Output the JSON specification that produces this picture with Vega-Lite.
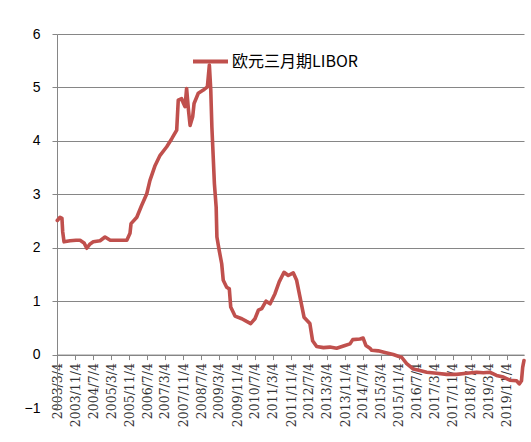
{
  "$schema": "https://vega.github.io/schema/vega-lite/v6.json",
  "width": 467,
  "height": 374,
  "autosize": {"type": "none"},
  "padding": {"left": 57, "top": 34, "right": 7, "bottom": 34},
  "background": "white",
  "config": {"view": {"stroke": null}},
  "data": {"values": [
    {"date": "2003-03-08", "rate": 2.51},
    {"date": "2003-04-14", "rate": 2.57},
    {"date": "2003-05-10", "rate": 2.55},
    {"date": "2003-05-20", "rate": 2.3},
    {"date": "2003-06-07", "rate": 2.11},
    {"date": "2003-08-28", "rate": 2.13},
    {"date": "2003-11-16", "rate": 2.14},
    {"date": "2004-01-10", "rate": 2.14},
    {"date": "2004-03-04", "rate": 2.09},
    {"date": "2004-04-10", "rate": 1.99},
    {"date": "2004-05-25", "rate": 2.07},
    {"date": "2004-07-07", "rate": 2.11},
    {"date": "2004-10-07", "rate": 2.13},
    {"date": "2004-12-13", "rate": 2.2},
    {"date": "2005-02-22", "rate": 2.14},
    {"date": "2005-06-07", "rate": 2.14},
    {"date": "2005-10-04", "rate": 2.14},
    {"date": "2005-11-16", "rate": 2.27},
    {"date": "2005-11-30", "rate": 2.45},
    {"date": "2006-02-16", "rate": 2.57},
    {"date": "2006-04-22", "rate": 2.79},
    {"date": "2006-07-01", "rate": 3.01},
    {"date": "2006-08-13", "rate": 3.26},
    {"date": "2006-10-22", "rate": 3.54},
    {"date": "2006-12-28", "rate": 3.73},
    {"date": "2007-03-28", "rate": 3.89},
    {"date": "2007-06-04", "rate": 4.04},
    {"date": "2007-08-10", "rate": 4.2},
    {"date": "2007-08-31", "rate": 4.76},
    {"date": "2007-10-16", "rate": 4.79},
    {"date": "2007-11-04", "rate": 4.72},
    {"date": "2007-12-01", "rate": 4.64},
    {"date": "2007-12-22", "rate": 4.98},
    {"date": "2008-01-16", "rate": 4.58},
    {"date": "2008-02-07", "rate": 4.29},
    {"date": "2008-03-13", "rate": 4.45},
    {"date": "2008-04-01", "rate": 4.7},
    {"date": "2008-05-28", "rate": 4.89},
    {"date": "2008-08-04", "rate": 4.95},
    {"date": "2008-09-28", "rate": 5.01},
    {"date": "2008-10-25", "rate": 5.42},
    {"date": "2008-11-13", "rate": 4.95},
    {"date": "2008-11-28", "rate": 4.26},
    {"date": "2008-12-10", "rate": 3.89},
    {"date": "2009-01-01", "rate": 3.2},
    {"date": "2009-01-25", "rate": 2.76},
    {"date": "2009-02-04", "rate": 2.2},
    {"date": "2009-03-07", "rate": 1.95},
    {"date": "2009-04-10", "rate": 1.7},
    {"date": "2009-05-01", "rate": 1.39},
    {"date": "2009-06-16", "rate": 1.26},
    {"date": "2009-07-22", "rate": 1.23},
    {"date": "2009-08-10", "rate": 0.89},
    {"date": "2009-10-07", "rate": 0.72},
    {"date": "2010-01-07", "rate": 0.67},
    {"date": "2010-03-13", "rate": 0.62},
    {"date": "2010-05-07", "rate": 0.58},
    {"date": "2010-07-04", "rate": 0.67},
    {"date": "2010-08-19", "rate": 0.83},
    {"date": "2010-10-04", "rate": 0.86},
    {"date": "2010-12-01", "rate": 1.0},
    {"date": "2011-01-25", "rate": 0.95},
    {"date": "2011-04-01", "rate": 1.14},
    {"date": "2011-05-28", "rate": 1.36},
    {"date": "2011-08-01", "rate": 1.54},
    {"date": "2011-09-28", "rate": 1.48},
    {"date": "2011-12-04", "rate": 1.53},
    {"date": "2012-01-19", "rate": 1.39},
    {"date": "2012-03-04", "rate": 1.08},
    {"date": "2012-04-28", "rate": 0.7},
    {"date": "2012-07-16", "rate": 0.58},
    {"date": "2012-08-22", "rate": 0.26},
    {"date": "2012-10-16", "rate": 0.15},
    {"date": "2013-01-16", "rate": 0.13},
    {"date": "2013-04-13", "rate": 0.14},
    {"date": "2013-07-13", "rate": 0.12},
    {"date": "2013-11-04", "rate": 0.17},
    {"date": "2014-01-10", "rate": 0.2},
    {"date": "2014-02-16", "rate": 0.28},
    {"date": "2014-05-25", "rate": 0.29},
    {"date": "2014-07-07", "rate": 0.31},
    {"date": "2014-08-13", "rate": 0.17},
    {"date": "2014-10-07", "rate": 0.12},
    {"date": "2014-10-31", "rate": 0.08},
    {"date": "2015-01-28", "rate": 0.07},
    {"date": "2015-04-28", "rate": 0.04},
    {"date": "2015-08-19", "rate": 0.0},
    {"date": "2015-10-25", "rate": -0.03},
    {"date": "2015-12-10", "rate": -0.05},
    {"date": "2016-02-16", "rate": -0.17},
    {"date": "2016-05-16", "rate": -0.27},
    {"date": "2016-08-13", "rate": -0.3},
    {"date": "2016-11-13", "rate": -0.33},
    {"date": "2017-03-28", "rate": -0.35},
    {"date": "2017-08-10", "rate": -0.37},
    {"date": "2017-12-22", "rate": -0.37},
    {"date": "2018-05-07", "rate": -0.35},
    {"date": "2018-09-19", "rate": -0.33},
    {"date": "2018-12-19", "rate": -0.34},
    {"date": "2019-03-16", "rate": -0.33},
    {"date": "2019-06-16", "rate": -0.39},
    {"date": "2019-09-16", "rate": -0.42},
    {"date": "2019-12-13", "rate": -0.48},
    {"date": "2020-03-13", "rate": -0.49},
    {"date": "2020-04-19", "rate": -0.55},
    {"date": "2020-05-19", "rate": -0.49},
    {"date": "2020-06-04", "rate": -0.24},
    {"date": "2020-06-22", "rate": -0.11}
  ]},
  "mark": {"type": "line", "strokeWidth": 3.6, "strokeJoin": "round", "strokeCap": "round", "clip": false},
  "encoding": {
    "x": {
      "field": "date",
      "type": "temporal",
      "scale": {"type": "utc", "domain": [{"year": 2003, "month": 3, "date": 4, "utc": true}, {"year": 2020, "month": 6, "date": 22, "utc": true}], "nice": false},
      "axis": {
        "title": null,
        "offset": -53.43,
        "values": [
          {"year": 2003, "month": 3, "date": 4, "utc": true},
          {"year": 2003, "month": 11, "date": 4, "utc": true},
          {"year": 2004, "month": 7, "date": 4, "utc": true},
          {"year": 2005, "month": 3, "date": 4, "utc": true},
          {"year": 2005, "month": 11, "date": 4, "utc": true},
          {"year": 2006, "month": 7, "date": 4, "utc": true},
          {"year": 2007, "month": 3, "date": 4, "utc": true},
          {"year": 2007, "month": 11, "date": 4, "utc": true},
          {"year": 2008, "month": 7, "date": 4, "utc": true},
          {"year": 2009, "month": 3, "date": 4, "utc": true},
          {"year": 2009, "month": 11, "date": 4, "utc": true},
          {"year": 2010, "month": 7, "date": 4, "utc": true},
          {"year": 2011, "month": 3, "date": 4, "utc": true},
          {"year": 2011, "month": 11, "date": 4, "utc": true},
          {"year": 2012, "month": 7, "date": 4, "utc": true},
          {"year": 2013, "month": 3, "date": 4, "utc": true},
          {"year": 2013, "month": 11, "date": 4, "utc": true},
          {"year": 2014, "month": 7, "date": 4, "utc": true},
          {"year": 2015, "month": 3, "date": 4, "utc": true},
          {"year": 2015, "month": 11, "date": 4, "utc": true},
          {"year": 2016, "month": 7, "date": 4, "utc": true},
          {"year": 2017, "month": 3, "date": 4, "utc": true},
          {"year": 2017, "month": 11, "date": 4, "utc": true},
          {"year": 2018, "month": 7, "date": 4, "utc": true},
          {"year": 2019, "month": 3, "date": 4, "utc": true},
          {"year": 2019, "month": 11, "date": 4, "utc": true}
        ],
        "labelExpr": "utcFormat(datum.value, '%Y/%-m/%-d')",
        "labelAngle": 270,
        "labelAlign": "right",
        "labelBaseline": "middle",
        "labelFont": "DejaVu Serif",
        "labelFontSize": 12.5,
        "labelColor": "#333333",
        "labelPadding": 3,
        "labelOverlap": false,
        "labelFlush": false,
        "labelBound": false,
        "grid": false,
        "domainColor": "#868686",
        "domainWidth": 1,
        "tickColor": "#868686",
        "tickSize": 5,
        "tickWidth": 1
      }
    },
    "y": {
      "field": "rate",
      "type": "quantitative",
      "scale": {"domain": [-1, 6], "nice": false, "zero": false},
      "axis": {
        "title": null,
        "values": [-1, 0, 1, 2, 3, 4, 5, 6],
        "format": "d",
        "labelFont": "Liberation Sans",
        "labelFontSize": 14,
        "labelColor": "#000000",
        "labelPadding": 12,
        "grid": true,
        "gridColor": {"condition": {"test": "datum.value === -1", "value": "transparent"}, "value": "#868686"},
        "gridWidth": 1,
        "domainColor": "#868686",
        "domainWidth": 1,
        "tickColor": "#868686",
        "tickSize": 5,
        "tickWidth": 1
      }
    },
    "color": {
      "datum": "欧元三月期LIBOR",
      "type": "nominal",
      "scale": {"range": ["#c0504d"]},
      "legend": {
        "title": null,
        "orient": "none",
        "legendX": 134,
        "legendY": 8,
        "padding": 0,
        "symbolType": "stroke",
        "symbolSize": 1225,
        "symbolStrokeWidth": 4,
        "symbolStrokeColor": "#c0504d",
        "labelFont": "Noto Sans CJK SC",
        "labelFontSize": 16,
        "labelColor": "#000000",
        "labelOffset": 2
      }
    }
  }
}
